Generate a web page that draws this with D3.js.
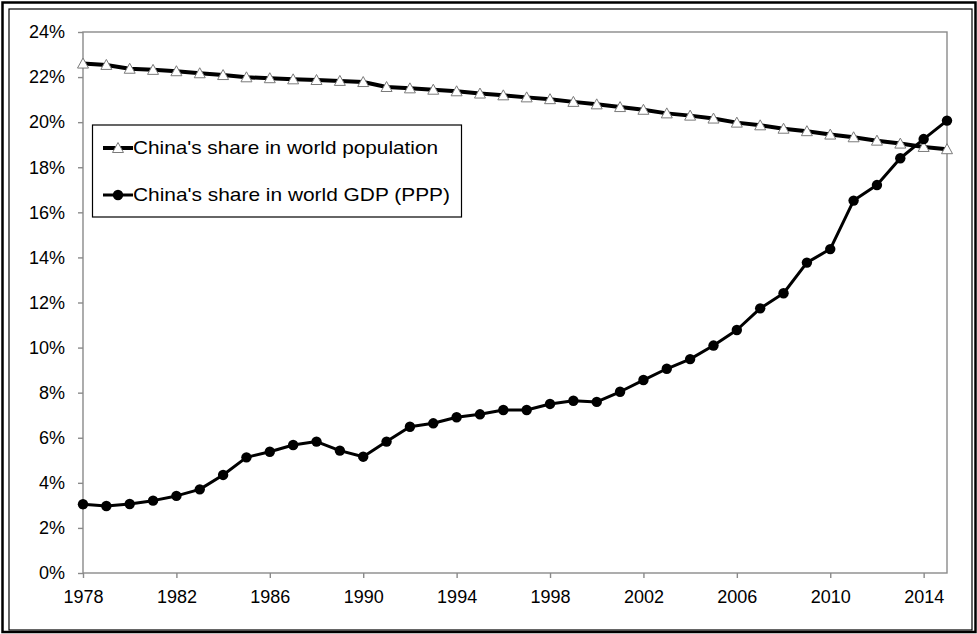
<!DOCTYPE html>
<html>
<head>
<meta charset="utf-8">
<script src="https://cdn.jsdelivr.net/npm/d3@7"></script>
<style>
  html, body { margin: 0; padding: 0; background: #fff; }
  svg { display: block; }
  text { font-family: "Liberation Sans", Arial, sans-serif; fill: #000; }
</style>
</head>
<body>
<svg id="chart" width="977" height="634"></svg>
<script>
// ---- data ----
const years = d3.range(1978, 2016);
const populationShare = [
  22.60, 22.54, 22.37, 22.32, 22.26, 22.17, 22.09, 21.99, 21.95, 21.90,
  21.87, 21.83, 21.78, 21.56, 21.50, 21.44, 21.37, 21.27, 21.19, 21.10,
  21.02, 20.90, 20.79, 20.67, 20.55, 20.39, 20.29, 20.16, 19.98, 19.86,
  19.71, 19.60, 19.45, 19.33, 19.18, 19.05, 18.90, 18.80
];
const gdpShare = [
  3.05, 2.97, 3.06, 3.21, 3.42, 3.71, 4.35, 5.13, 5.38, 5.68,
  5.83, 5.43, 5.16, 5.83, 6.49, 6.64, 6.91, 7.04, 7.23, 7.23,
  7.50, 7.64, 7.59, 8.04, 8.56, 9.06, 9.49, 10.09, 10.78, 11.74,
  12.41, 13.77, 14.37, 16.52, 17.21, 18.40, 19.25, 20.07
];
const xTickValues = [1978, 1982, 1986, 1990, 1994, 1998, 2002, 2006, 2010, 2014];
const yTickValues = [0, 2, 4, 6, 8, 10, 12, 14, 16, 18, 20, 22, 24];
const seriesNames = ["China's share in world population", "China's share in world GDP (PPP)"];

// ---- layout ----
const svg = d3.select("#chart");
const mLeft = 83, mRight = 947, mTop = 32, mBottom = 573;
const axisColor = "#8a8a8a";

const x = d3.scaleLinear().domain([1978, 2015]).range([mLeft, mRight]);
const y = d3.scaleLinear().domain([0, 24]).range([mBottom, mTop]);

// outer double frame
svg.append("rect").attr("x", 2.5).attr("y", 2.5).attr("width", 973).attr("height", 629.5)
  .attr("fill", "none").attr("stroke", "#000").attr("stroke-width", 2.5);
svg.append("rect").attr("x", 9).attr("y", 9).attr("width", 963).attr("height", 621)
  .attr("fill", "none").attr("stroke", "#000").attr("stroke-width", 1.2);

// plot frame
svg.append("rect").attr("x", mLeft).attr("y", mTop)
  .attr("width", mRight - mLeft).attr("height", mBottom - mTop)
  .attr("fill", "none").attr("stroke", axisColor).attr("stroke-width", 1.4);

// y axis
const yAxis = d3.axisLeft(y).tickValues(yTickValues).tickFormat(d => d + "%")
  .tickSize(5).tickPadding(13);
const gy = svg.append("g").attr("transform", `translate(${mLeft},0)`).call(yAxis);
gy.select(".domain").remove();
gy.selectAll(".tick line").attr("stroke", axisColor).attr("stroke-width", 1.4);
gy.selectAll(".tick text").attr("font-size", 18).attr("font-family", "Liberation Sans, Arial, sans-serif").attr("fill", "#000");

// x axis
const xAxis = d3.axisBottom(x).tickValues(xTickValues).tickFormat(d3.format("d"))
  .tickSize(5).tickPadding(12.5);
const gx = svg.append("g").attr("transform", `translate(0,${mBottom})`).call(xAxis);
gx.select(".domain").remove();
gx.selectAll(".tick line").attr("stroke", axisColor).attr("stroke-width", 1.4);
gx.selectAll(".tick text").attr("font-size", 18).attr("font-family", "Liberation Sans, Arial, sans-serif").attr("fill", "#000");

// lines
const popData = years.map((yr, i) => ({ yr, v: populationShare[i] }));
const gdpData = years.map((yr, i) => ({ yr, v: gdpShare[i] }));
const line = d3.line().x(d => x(d.yr)).y(d => y(d.v));

const triPath = "M0,-5.5L5.5,4.5L-5.5,4.5Z";

svg.append("path").datum(popData).attr("d", line)
  .attr("fill", "none").attr("stroke", "#000").attr("stroke-width", 4).attr("stroke-linejoin", "round");
svg.append("g").selectAll("path").data(popData).join("path")
  .attr("d", triPath)
  .attr("transform", d => `translate(${x(d.yr)},${y(d.v)})`)
  .attr("fill", "#fff").attr("stroke", "#7a7a7a").attr("stroke-width", 1);

svg.append("path").datum(gdpData).attr("d", line)
  .attr("fill", "none").attr("stroke", "#000").attr("stroke-width", 3).attr("stroke-linejoin", "round");
svg.append("g").selectAll("circle").data(gdpData).join("circle")
  .attr("cx", d => x(d.yr)).attr("cy", d => y(d.v)).attr("r", 5.2)
  .attr("fill", "#000");

// legend
const lg = svg.append("g");
lg.append("rect").attr("x", 92.5).attr("y", 125).attr("width", 369).attr("height", 92)
  .attr("fill", "#fff").attr("stroke", "#000").attr("stroke-width", 1.2);
const legendRows = [
  { name: seriesNames[0], cy: 148, widthPx: 305, w: 4, marker: "tri" },
  { name: seriesNames[1], cy: 195, widthPx: 317, w: 3, marker: "circle" }
];
legendRows.forEach(r => {
  lg.append("line").attr("x1", 103).attr("x2", 133).attr("y1", r.cy).attr("y2", r.cy)
    .attr("stroke", "#000").attr("stroke-width", r.w);
  if (r.marker === "tri") {
    lg.append("path").attr("d", triPath).attr("transform", `translate(118,${r.cy})`)
      .attr("fill", "#fff").attr("stroke", "#7a7a7a").attr("stroke-width", 1);
  } else {
    lg.append("circle").attr("cx", 118).attr("cy", r.cy).attr("r", 5.2).attr("fill", "#000");
  }
  lg.append("text").attr("x", 133).attr("y", r.cy).attr("dy", "0.35em")
    .attr("font-size", 18.5)
    .attr("textLength", r.widthPx).attr("lengthAdjust", "spacingAndGlyphs")
    .text(r.name);
});
</script>
</body>
</html>
